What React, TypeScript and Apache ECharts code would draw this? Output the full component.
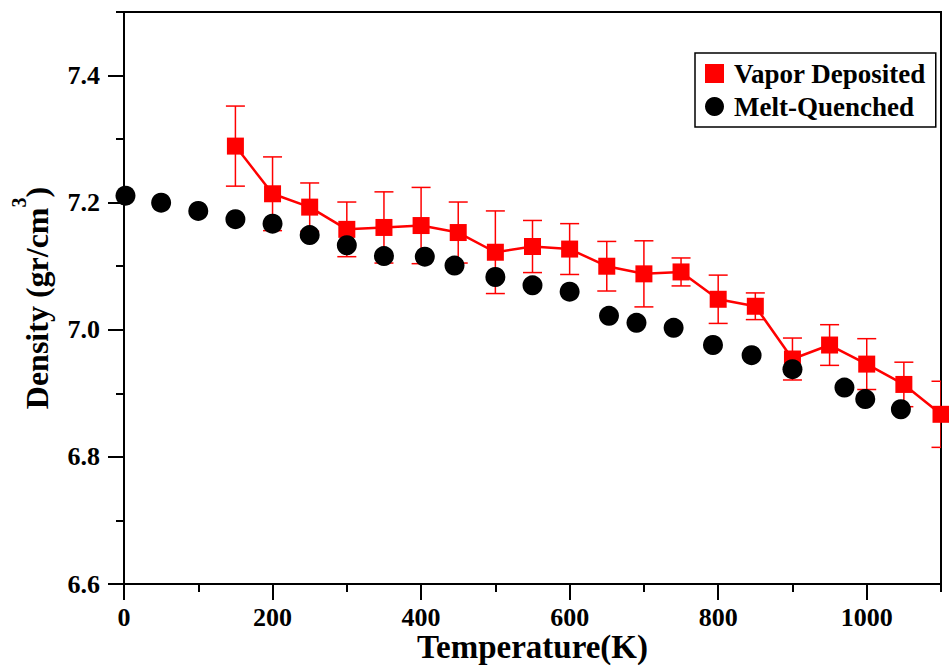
import { useEffect, useRef } from 'react';
import * as echarts from 'echarts';

const vaporT = [150, 200, 250, 300, 350, 400, 450, 500, 550, 600, 650, 700, 750, 800, 850, 900, 950, 1000, 1050, 1100];
const vaporD = [7.289, 7.214, 7.193, 7.158, 7.161, 7.164, 7.153, 7.122, 7.131, 7.127, 7.100, 7.088, 7.091, 7.048, 7.037, 6.954, 6.976, 6.946, 6.914, 6.867];
const vaporErr = [0.063, 0.058, 0.038, 0.043, 0.056, 0.06, 0.048, 0.065, 0.041, 0.04, 0.039, 0.052, 0.022, 0.038, 0.021, 0.033, 0.032, 0.04, 0.035, 0.052];

const meltT = [2, 50, 100, 150, 200, 250, 300, 350, 405, 445, 500, 550, 600, 653, 690, 740, 793, 845, 900, 970, 998, 1046];
const meltD = [7.211, 7.200, 7.187, 7.174, 7.167, 7.149, 7.133, 7.116, 7.115, 7.101, 7.083, 7.070, 7.060, 7.022, 7.011, 7.003, 6.976, 6.960, 6.938, 6.909, 6.891, 6.875];

const xMajor = [0, 200, 400, 600, 800, 1000];
const xMinor = [100, 300, 500, 700, 900, 1100];
const yMajor = [6.6, 6.8, 7.0, 7.2, 7.4];
const yMinor = [6.7, 6.9, 7.1, 7.3, 7.5];

const FONT = 'Liberation Serif';

export default function App() {
  const ref = useRef<HTMLDivElement>(null);
  useEffect(() => {
    const chart = echarts.init(ref.current!, null, { renderer: 'svg' });
    const errData = vaporT.map((t, i) => [t, vaporD[i] - vaporErr[i], vaporD[i] + vaporErr[i]]);
    const tickLine = { color: '#000', width: 2 };
    const labelStyle = { color: '#000', fontFamily: FONT, fontWeight: 'bold', fontSize: 26 };
    chart.setOption({
      animation: false,
      grid: {
        left: 124, right: 8, top: 12, bottom: 85,
        show: true, borderColor: '#000', borderWidth: 2, backgroundColor: 'transparent',
        containLabel: false, outerBoundsMode: 'none',
      },
      legend: {
        left: 695,
        top: 53,
        orient: 'vertical',
        data: [
          { name: 'Vapor Deposited', icon: 'rect' },
          { name: 'Melt-Quenched', icon: 'circle' },
        ],
        itemWidth: 19,
        itemHeight: 19,
        itemGap: 6,
        padding: [7, 10, 7, 10],
        borderColor: '#000',
        borderWidth: 1.5,
        borderRadius: 0,
        backgroundColor: '#fff',
        textStyle: { ...labelStyle, fontSize: 27, lineHeight: 26, padding: [0, 0, 0, 5] },
      },
      xAxis: [
        {
          type: 'value', min: 0, max: 1100, position: 'bottom',
          axisLine: { show: true, lineStyle: tickLine },
          axisTick: { show: true, customValues: xMajor, length: 16, lineStyle: tickLine },
          axisLabel: { ...labelStyle, lineHeight: 20, customValues: xMajor, margin: 23, formatter: (v: number) => String(v) },
          splitLine: { show: false },
          name: 'Temperature(K)', nameLocation: 'middle', nameGap: 50, nameMoveOverlap: false,
          nameTextStyle: { color: '#000', fontFamily: FONT, fontWeight: 'bold', fontSize: 33, lineHeight: 26 },
        },
        {
          type: 'value', min: 0, max: 1100, position: 'bottom',
          axisLine: { show: false },
          axisTick: { show: true, customValues: xMinor, length: 8, lineStyle: tickLine },
          axisLabel: { show: false },
          splitLine: { show: false },
        },
      ],
      yAxis: [
        {
          type: 'value', min: 6.6, max: 7.5, position: 'left',
          axisLine: { show: true, lineStyle: tickLine },
          axisTick: { show: true, customValues: yMajor, length: 16, lineStyle: tickLine },
          axisLabel: { ...labelStyle, customValues: yMajor, margin: 24, formatter: (v: number) => v.toFixed(1) },
          splitLine: { show: false },
          name: '{a|Density (gr/cm}{s|3}{a|)}', nameLocation: 'middle', nameRotate: 90, nameGap: 59,
          nameTextStyle: {
            rich: {
              a: { color: '#000', fontFamily: FONT, fontWeight: 'bold', fontSize: 32, lineHeight: 56 },
              s: { color: '#000', fontFamily: FONT, fontWeight: 'bold', fontSize: 20, lineHeight: 20, verticalAlign: 'top' },
            },
          },
        },
        {
          type: 'value', min: 6.6, max: 7.5, position: 'left',
          axisLine: { show: false },
          axisTick: { show: true, customValues: yMinor, length: 8, lineStyle: tickLine },
          axisLabel: { show: false },
          splitLine: { show: false },
        },
      ],
      series: [
        {
          type: 'custom', name: 'err', silent: true, z: 1, clip: true,
          data: errData,
          encode: { x: 0, y: [1, 2] },
          renderItem: (params: any, api: any) => {
            const x = api.value(0);
            const lo = api.coord([x, api.value(1)]);
            const hi = api.coord([x, api.value(2)]);
            const w = 9.5;
            const style = { stroke: '#ff0000', lineWidth: 1.5 };
            return {
              type: 'group',
              children: [
                { type: 'line', shape: { x1: hi[0], y1: hi[1], x2: lo[0], y2: lo[1] }, style },
                { type: 'line', shape: { x1: hi[0] - w, y1: hi[1], x2: hi[0] + w, y2: hi[1] }, style },
                { type: 'line', shape: { x1: lo[0] - w, y1: lo[1], x2: lo[0] + w, y2: lo[1] }, style },
              ],
            };
          },
        },
        {
          type: 'line', name: 'Vapor Deposited', z: 2,
          data: vaporT.map((t, i) => [t, vaporD[i]]),
          symbol: 'rect', symbolSize: 17, showAllSymbol: true,
          itemStyle: { color: '#ff0000' },
          lineStyle: { color: '#ff0000', width: 2.5 },
        },
        {
          type: 'scatter', name: 'Melt-Quenched', z: 3,
          data: meltT.map((t, i) => [t, meltD[i]]),
          symbol: 'circle', symbolSize: 20,
          itemStyle: { color: '#000', opacity: 1 },
        },
      ],
    });
    return () => chart.dispose();
  }, []);
  return <div ref={ref} style={{ position: 'fixed', left: 0, top: 0, width: 949, height: 669, background: '#fff' }} />;
}
